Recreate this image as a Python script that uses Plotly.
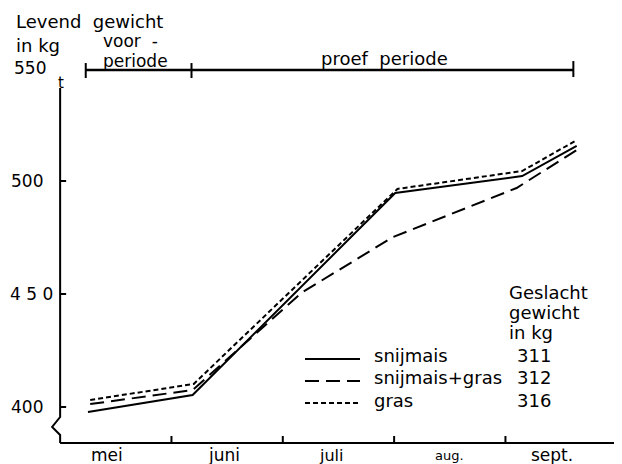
import plotly.graph_objects as go

# ---------------- data ----------------
maanden = ["mei", "juni", "juli", "aug.", "sept."]

x_snijmais = [0.25, 1.19, 3.01, 4.15, 4.64]
y_snijmais = [397.8, 405.3, 494.7, 502.2, 515.5]

x_snijmais_gras = [0.27, 1.19, 2.17, 2.99, 4.10, 4.64]
y_snijmais_gras = [401.3, 407.5, 450.6, 475.2, 496.9, 513.7]

x_gras = [0.27, 1.20, 3.03, 4.15, 4.64]
y_gras = [403.1, 410.2, 496.5, 504.4, 518.1]

reeksen = ["snijmais", "snijmais+gras", "gras"]
geslacht_gewicht = [311, 312, 316]

y_tickvals = [400, 450, 500, 550]
y_ticktext = ["400", "4 5 0", "500", "550"]

periode_grenzen = [0.23, 1.18, 4.61]
periode_y = 549.1

# ---------------- layout geometry ----------------
OFF = 8                      # page body margin
EXTRA = 8                    # extra room below so bottom labels are not clipped
W, H = 622 - OFF, 464 - OFF + EXTRA
ML, MR, MT, MB = 49 - OFF, 3, 40 - OFF, 20 + EXTRA
PW, PH = W - ML - MR, H - MT - MB
X0, X1 = -0.1, 5.02
Y0, Y1 = 383.63, 562.39
Y_AXIS_BOTTOM = 384.07
FONT = "DejaVu Sans"


def px_x(p):
    return (p - OFF - ML) / PW


def px_y(p):
    return (MT + PH - (p - OFF)) / PH


ux = (X1 - X0) / PW   # data units per px (x)
uy = (Y1 - Y0) / PH   # data units per px (y)

fig = go.Figure()

styles = [
    dict(dash="solid"),
    dict(dash="14px,7px"),
    dict(dash="5px,3px"),
]
series = [(x_snijmais, y_snijmais), (x_snijmais_gras, y_snijmais_gras), (x_gras, y_gras)]
for (xs, ys), name, st in zip(series, reeksen, styles):
    fig.add_trace(go.Scatter(
        x=xs, y=ys, mode="lines", name=name, showlegend=False,
        line=dict(color="black", width=2, dash=st["dash"]),
        hoverinfo="skip",
    ))

shapes = []
line_k = dict(color="black", width=2)

# y axis with break
shapes.append(dict(
    type="path", xref="x", yref="y", line=line_k,
    path=(f"M 0,541.2 L 0,{400 - 10 * uy:.3f} L {-8 * ux:.4f},{400 - 20 * uy:.3f} "
          f"L 0,{400 - 28 * uy:.3f} L 0,{Y_AXIS_BOTTOM}"),
))
# y ticks
for v in y_tickvals[:3]:
    shapes.append(dict(type="line", xref="x", yref="y", x0=0, x1=6 * ux, y0=v, y1=v, line=line_k))
# x axis
shapes.append(dict(type="line", xref="x", yref="y", x0=0, x1=5, y0=Y_AXIS_BOTTOM, y1=Y_AXIS_BOTTOM, line=line_k))
for m in range(1, 6):
    shapes.append(dict(type="line", xref="x", yref="y", x0=m, x1=m,
                       y0=Y_AXIS_BOTTOM, y1=Y_AXIS_BOTTOM + 7 * uy, line=line_k))
# period bar
shapes.append(dict(type="line", xref="x", yref="y", x0=periode_grenzen[0], x1=periode_grenzen[-1],
                   y0=periode_y, y1=periode_y, line=dict(color="black", width=2.5)))
for i, g in enumerate(periode_grenzen):
    up, down = (9, 7) if i == 2 else (7, 8)
    shapes.append(dict(type="line", xref="x", yref="y", x0=g, x1=g,
                       y0=periode_y - down * uy, y1=periode_y + up * uy, line=line_k))

# legend samples
leg_y = [359, 381, 403]
for st, ly in zip(styles, leg_y):
    shapes.append(dict(type="line", xref="paper", yref="paper",
                       x0=px_x(305), x1=px_x(360), y0=px_y(ly), y1=px_y(ly),
                       line=dict(color="black", width=2, dash=st["dash"])))

ann = []


def text(t, x, y, size=17, xanchor="left", xref="paper", yref="paper", **kw):
    ann.append(dict(text=t, x=x, y=y, xref=xref, yref=yref, xanchor=xanchor, yanchor="middle",
                    showarrow=False, font=dict(family=FONT, size=size, color="black"), **kw))


# top-left titles
text("Levend  gewicht", px_x(14), px_y(22), size=18)
text("in kg", px_x(14), px_y(45), size=18)
text("voor  -", px_x(101), px_y(41), size=17)
text("periode", px_x(101), px_y(61), size=17)
text("proef  periode", px_x(319), px_y(58), size=18)
text("t", px_x(61), px_y(83), size=15, xanchor="center")

# y labels
y_right = {400: 45, 450: 55, 500: 45, 550: 48}
for v, t in zip(y_tickvals, y_ticktext):
    text(t, px_x(y_right[v]), v, size=17, xanchor="right", yref="y")

# month labels
month_offset = [0.42, 0.47, 0.43, 0.50, 0.42]
month_size = [17, 17, 16, 13, 17]
for i, (m, off, sz) in enumerate(zip(maanden, month_offset, month_size)):
    text(m, i + off, px_y(455), size=sz, xanchor="center", xref="x")

# legend text
text("Geslacht", px_x(507), px_y(292), size=18)
text("gewicht", px_x(507), px_y(312), size=18)
text("in kg", px_x(507), px_y(332), size=18)
for name, val, ly in zip(reeksen, geslacht_gewicht, [355, 377, 400]):
    text(name, px_x(372), px_y(ly), size=18)
    text(str(val), px_x(553), px_y(ly), size=18, xanchor="right")

fig.update_layout(
    width=W, height=H,
    margin=dict(l=ML, r=MR, t=MT, b=MB),
    paper_bgcolor="white", plot_bgcolor="white",
    xaxis=dict(range=[X0, X1], visible=False, fixedrange=True),
    yaxis=dict(range=[Y0, Y1], visible=False, fixedrange=True),
    shapes=shapes, annotations=ann, showlegend=False,
)

fig.write_html("out.html")
